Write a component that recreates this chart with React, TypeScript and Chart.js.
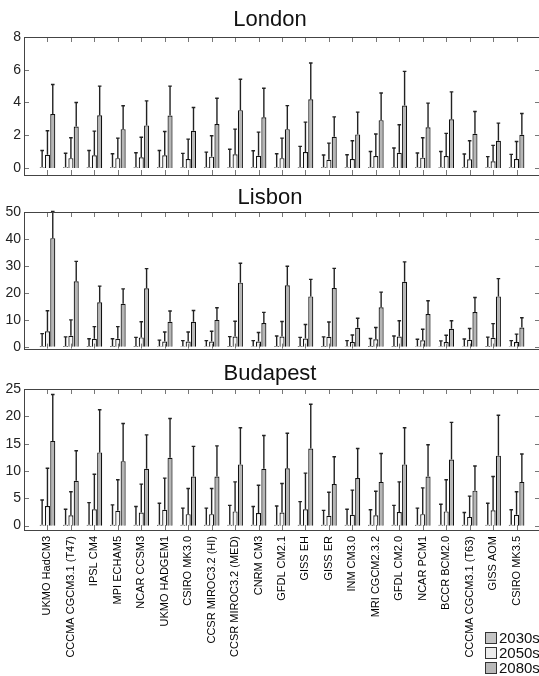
import React, { useEffect, useRef } from "react";
import { Chart, registerables } from "chart.js";

Chart.register(...registerables);

const models = [
  "UKMO HadCM3", "CCCMA CGCM3.1 (T47)", "IPSL CM4", "MPI ECHAM5", "NCAR CCSM3",
  "UKMO HADGEM1", "CSIRO MK3.0", "CCSR MIROC3.2 (HI)", "CCSR MIROC3.2 (MED)", "CNRM CM3",
  "GFDL CM2.1", "GISS EH", "GISS ER", "INM CM3.0", "MRI CGCM2.3.2",
  "GFDL CM2.0", "NCAR PCM1", "BCCR BCM2.0", "CCCMA CGCM3.1 (T63)", "GISS AOM", "CSIRO MK3.5",
];
const seriesNames = ["2030s", "2050s", "2080s"];

// London
const london2030 = [0.05, 0.05, 0.05, 0.05, 0.05, 0.05, 0.05, 0.05, 0.05, 0.05, 0.05, 0.05, 0.05, 0.05, 0.05, 0.05, 0.05, 0.05, 0.05, 0.05, 0.05];
const london2030Err = [1.07, 0.9, 1.07, 0.87, 0.93, 1.07, 0.89, 0.97, 1.14, 1.05, 0.87, 1.32, 0.79, 0.81, 1.01, 1.22, 0.91, 1.01, 0.85, 0.69, 0.83];
const london2050 = [0.81, 0.6, 0.78, 0.6, 0.65, 0.77, 0.55, 0.69, 0.83, 0.75, 0.6, 0.97, 0.5, 0.55, 0.73, 0.93, 0.63, 0.73, 0.53, 0.41, 0.55];
const london2050Err = [2.27, 1.85, 2.25, 1.82, 1.88, 2.23, 1.76, 1.97, 2.37, 2.19, 1.82, 2.8, 1.52, 1.66, 2.07, 2.64, 1.85, 2.11, 1.66, 1.38, 1.62];
const london2080 = [3.3, 2.53, 3.22, 2.37, 2.6, 3.2, 2.27, 2.68, 3.53, 3.1, 2.37, 4.2, 1.9, 2.05, 2.92, 3.81, 2.49, 2.98, 2.09, 1.66, 2.03];
const london2080Err = [5.1, 4.0, 5.0, 3.8, 4.1, 5.0, 3.69, 4.26, 5.42, 4.87, 3.81, 6.41, 3.12, 3.41, 4.58, 5.9, 3.96, 4.65, 3.45, 2.74, 3.33];
const londonTicks = [0, 2, 4, 6, 8];

// Lisbon
const lisbon2030 = [0.3, 0.3, 0.3, 0.3, 0.3, 0.2, 0.2, 0.2, 0.3, 0.2, 0.3, 0.3, 0.3, 0.2, 0.3, 0.3, 0.2, 0.2, 0.2, 0.3, 0.2];
const lisbon2030Err = [4.9, 3.7, 3.0, 3.0, 3.5, 2.5, 2.3, 2.3, 3.8, 2.3, 4.0, 3.5, 3.7, 2.3, 3.1, 4.0, 2.8, 2.2, 2.9, 3.6, 2.3];
const lisbon2050 = [5.8, 4.1, 3.0, 3.0, 3.5, 2.0, 2.0, 2.0, 3.8, 2.0, 3.8, 3.1, 3.7, 1.8, 2.8, 3.8, 2.4, 1.8, 2.6, 3.4, 1.8];
const lisbon2050Err = [13.4, 10.0, 7.5, 7.5, 9.3, 5.5, 5.5, 5.8, 9.5, 5.3, 9.4, 8.3, 9.2, 4.4, 7.2, 9.7, 6.5, 4.3, 6.8, 8.6, 4.7];
const lisbon2080 = [40.3, 24.3, 16.5, 16.0, 21.7, 9.3, 9.3, 10.0, 23.8, 8.8, 22.8, 18.7, 21.8, 7.1, 14.7, 24.1, 12.2, 6.7, 12.9, 18.7, 7.2];
const lisbon2080Err = [50.2, 31.7, 22.5, 21.5, 29.0, 13.3, 13.5, 14.5, 31.0, 12.8, 29.9, 25.0, 29.1, 10.6, 20.3, 31.5, 17.1, 9.7, 18.3, 25.3, 10.8];
const lisbonTicks = [0, 10, 20, 30, 40, 50];

// Budapest
const budapest2030 = [0.15, 0.15, 0.15, 0.15, 0.15, 0.15, 0.15, 0.15, 0.15, 0.15, 0.15, 0.15, 0.15, 0.15, 0.15, 0.15, 0.15, 0.15, 0.15, 0.15, 0.15];
const budapest2030Err = [4.7, 3.0, 4.2, 3.8, 3.5, 4.1, 3.2, 3.2, 3.7, 3.5, 3.6, 4.4, 2.8, 3.0, 2.9, 3.7, 3.2, 3.9, 2.4, 4.1, 2.9];
const budapest2050 = [3.6, 1.9, 3.0, 2.7, 2.4, 2.9, 2.1, 2.1, 2.6, 2.3, 2.4, 3.0, 1.8, 2.0, 1.9, 2.5, 2.1, 2.6, 1.6, 2.8, 2.0];
const budapest2050Err = [10.5, 6.2, 9.4, 8.4, 7.6, 8.7, 6.8, 6.8, 8.0, 7.4, 7.7, 9.6, 6.1, 6.5, 6.3, 8.0, 6.9, 8.4, 5.4, 9.0, 6.2];
const budapest2080 = [15.5, 8.2, 13.4, 11.8, 10.4, 12.4, 9.0, 9.0, 11.2, 10.4, 10.5, 14.1, 7.6, 8.7, 8.0, 11.2, 9.0, 12.1, 6.4, 12.8, 8.0];
const budapest2080Err = [24.0, 13.7, 21.2, 18.7, 16.6, 19.6, 14.5, 14.6, 17.9, 16.5, 16.9, 22.2, 12.6, 14.1, 13.2, 17.9, 14.8, 18.9, 10.9, 20.2, 13.1];
const budapestTicks = [0, 5, 10, 15, 20, 25];

const FONT = "'Liberation Sans', Arial, Helvetica, sans-serif";
const fills = ["#c4c4c4", "#f4f4f4", "#b6b6b6"];
const legendFills = ["#c4c4c4", "#ececec", "#b8b8b8"];

function hasFont(name: string): boolean {
  try {
    const c = document.createElement("canvas").getContext("2d");
    if (!c) return false;
    const s = "UKMO HadCM3 abcdefg";
    c.font = "20px monospace";
    const w1 = c.measureText(s).width;
    c.font = `20px "${name}", monospace`;
    return Math.abs(c.measureText(s).width - w1) > 0.5;
  } catch (e) {
    return false;
  }
}

const narrow = hasFont("Liberation Sans Narrow");
const labelFont = narrow
  ? { family: "'Liberation Sans Narrow', 'Liberation Sans', Arial, sans-serif", size: 13 }
  : { family: FONT, size: 11 };

const pad = (a: (number | string)[], v: any) => [v, ...a, v];

type Panel = {
  title: string;
  top: number;
  height: number;
  titlePadTop: number;
  titlePadBottom: number;
  padBottom: number;
  xHeight: number;
  showLabels: boolean;
  yMin: number;
  yMax: number;
  yTicks: number[];
  values: number[][];
  errors: number[][];
};

const panels: Panel[] = [
  {
    title: "London", top: 0, height: 190, titlePadTop: 7, titlePadBottom: 3.6,
    padBottom: 15, xHeight: 0, showLabels: false, yMin: -0.43, yMax: 8, yTicks: londonTicks,
    values: [london2030, london2050, london2080], errors: [london2030Err, london2050Err, london2080Err],
  },
  {
    title: "Lisbon", top: 180, height: 180, titlePadTop: 5, titlePadBottom: 0.6,
    padBottom: 8, xHeight: 0, showLabels: false, yMin: -0.65, yMax: 50, yTicks: lisbonTicks,
    values: [lisbon2030, lisbon2050, lisbon2080], errors: [lisbon2030Err, lisbon2050Err, lisbon2080Err],
  },
  {
    title: "Budapest", top: 355, height: 321, titlePadTop: 6, titlePadBottom: 1.6,
    padBottom: 0, xHeight: 146, showLabels: true, yMin: -0.8, yMax: 25, yTicks: budapestTicks,
    values: [budapest2030, budapest2050, budapest2080], errors: [budapest2030Err, budapest2050Err, budapest2080Err],
  },
];

const framePlugin = {
  id: "frameTicks",
  afterDatasetsDraw(chart: any) {
    const { ctx, scales } = chart;
    const errs: number[][] = chart.options.plugins.frameTicks.errors;
    const yScale = scales.y;
    ctx.save();
    ctx.strokeStyle = "#222";
    ctx.lineWidth = 1.4;
    errs.forEach((arr, di) => {
      const meta = chart.getDatasetMeta(di);
      meta.data.forEach((el: any, i: number) => {
        const e = arr[i - 1];
        if (i === 0 || e == null || isNaN(el.x)) return;
        const yTop = yScale.getPixelForValue(e);
        ctx.beginPath();
        ctx.moveTo(el.x, el.y);
        ctx.lineTo(el.x, yTop);
        ctx.moveTo(el.x - 1.8, yTop);
        ctx.lineTo(el.x + 1.8, yTop);
        ctx.stroke();
      });
    });
    ctx.restore();
  },
  afterDraw(chart: any) {
    const { ctx, chartArea, scales } = chart;
    const { left, right, top, bottom } = chartArea;
    ctx.save();
    ctx.strokeStyle = "#777";
    ctx.lineWidth = 1;
    const xs = scales.x;
    for (let i = 1; i < xs.ticks.length - 1; i++) {
      const x = Math.round(xs.getPixelForTick(i)) + 0.5;
      ctx.beginPath();
      ctx.moveTo(x, top);
      ctx.lineTo(x, top + 5);
      ctx.moveTo(x, bottom);
      ctx.lineTo(x, bottom - 5);
      ctx.stroke();
    }
    const ys = scales.y;
    ys.ticks.forEach((t: any) => {
      const y = Math.round(ys.getPixelForValue(t.value)) + 0.5;
      ctx.beginPath();
      ctx.moveTo(left, y);
      ctx.lineTo(left + 5, y);
      ctx.moveTo(right, y);
      ctx.lineTo(right - 5, y);
      ctx.stroke();
    });
    ctx.strokeStyle = "#444";
    ctx.strokeRect(Math.round(left) + 0.5, Math.round(top) + 0.5, Math.round(right - left), Math.round(bottom - top));
    ctx.restore();
  },
};

function PanelChart({ p }: { p: Panel }) {
  const ref = useRef<HTMLCanvasElement>(null);
  useEffect(() => {
    if (!ref.current) return;
    const chart = new Chart(ref.current, {
      type: "bar",
      data: {
        labels: pad(models, "") as string[],
        datasets: p.values.map((v, i) => ({
          label: seriesNames[i],
          data: pad(v, null) as any,
          backgroundColor: fills[i],
          borderColor: "#111",
          borderWidth: 1.2,
          categoryPercentage: 0.68,
          barPercentage: 0.95,
        })),
      },
      plugins: [framePlugin],
      options: {
        responsive: false,
        animation: false,
        layout: { padding: { left: 0, right: 5, top: 0, bottom: p.padBottom } },
        scales: {
          x: {
            type: "category",
            offset: false,
            grid: { display: false, drawTicks: false },
            border: { display: false },
            ticks: {
              display: p.showLabels,
              autoSkip: false,
              maxRotation: 90,
              minRotation: 90,
              padding: 6,
              color: "#000",
              font: labelFont,
            },
            afterFit: (s: any) => {
              s.height = p.xHeight;
              s.paddingLeft = 0;
              s.paddingRight = 0;
            },
          },
          y: {
            min: p.yMin,
            max: p.yMax,
            grid: { display: false, drawTicks: false },
            border: { display: false },
            ticks: { padding: 3, color: "#222", font: { family: FONT, size: 14 } },
            afterBuildTicks: (s: any) => {
              s.ticks = p.yTicks.map((v) => ({ value: v }));
            },
            afterFit: (s: any) => {
              s.width = 24;
            },
          },
        },
        plugins: {
          legend: { display: false },
          tooltip: { enabled: false },
          title: {
            display: true,
            text: p.title,
            color: "#111",
            font: { family: FONT, size: 22, weight: "normal" },
            padding: { top: p.titlePadTop, bottom: p.titlePadBottom },
          },
          frameTicks: { errors: p.errors },
        } as any,
      },
    });
    return () => chart.destroy();
  }, []);
  return (
    <canvas
      ref={ref}
      width={545}
      height={p.height}
      style={{ position: "absolute", left: 0, top: p.top, width: 545, height: p.height }}
    />
  );
}

export default function App() {
  return (
    <div
      style={{
        position: "absolute",
        left: 0,
        top: 0,
        width: 539,
        height: 676,
        overflow: "hidden",
        background: "#fff",
      }}
    >
      {panels.map((p) => (
        <PanelChart key={p.title} p={p} />
      ))}
      {seriesNames.map((s, i) => (
        <div
          key={s}
          style={{
            position: "absolute",
            left: 485,
            top: 630 + i * 15,
            height: 15,
            display: "flex",
            alignItems: "center",
            fontFamily: FONT,
            fontSize: 15,
            color: "#111",
            whiteSpace: "nowrap",
          }}
        >
          <span
            style={{
              display: "inline-block",
              width: 12,
              height: 12,
              boxSizing: "border-box",
              border: "1px solid #333",
              background: legendFills[i],
              marginRight: 2,
            }}
          />
          {s}
        </div>
      ))}
    </div>
  );
}
